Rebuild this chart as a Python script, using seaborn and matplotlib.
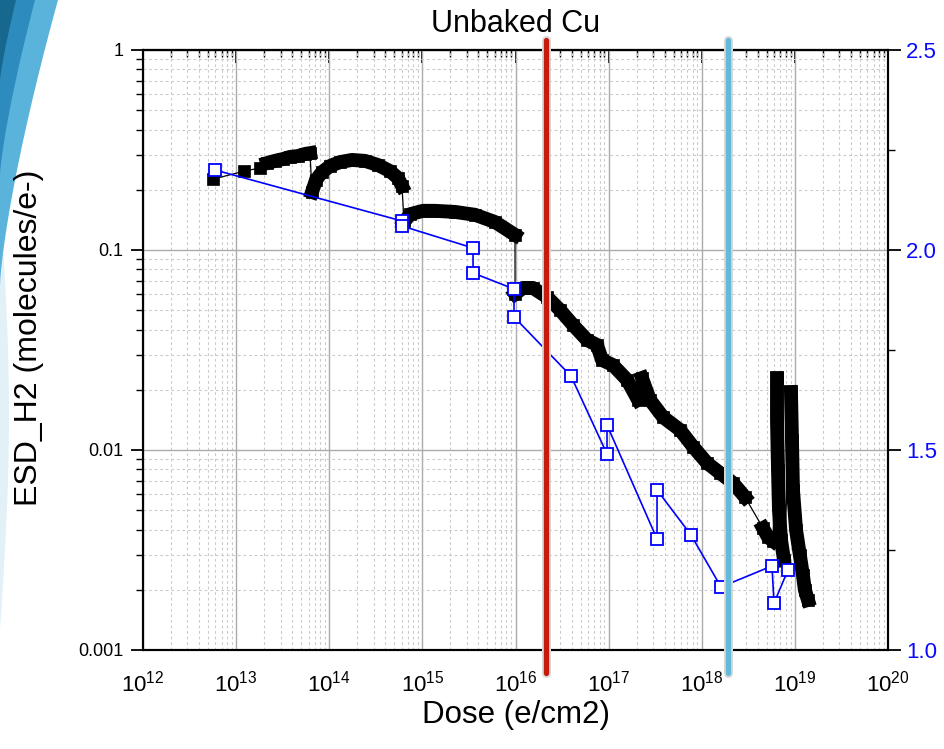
import numpy as np
import seaborn as sns
import matplotlib.pyplot as plt
from matplotlib.patches import Polygon
from matplotlib.ticker import LogLocator, FuncFormatter, MultipleLocator, NullFormatter

# ============================================================
# DATA
# ============================================================
# black series: ESD H2 yield, measured in several runs
early_dose = [5.65e12, 1.22e13, 1.80e13, 2.15e13, 2.61e13, 3.19e13, 3.79e13, 4.62e13, 5.49e13, 6.21e13]
early_esd = [0.226, 0.248, 0.257, 0.272, 0.279, 0.285, 0.292, 0.295, 0.302, 0.305]

arc_dose = [6.53e13, 7.21e13, 8.36e13, 1.02e14, 1.30e14, 1.75e14, 2.42e14, 3.34e14, 4.49e14, 5.47e14, 6.04e14]
arc_esd = [0.195, 0.224, 0.245, 0.263, 0.275, 0.282, 0.279, 0.266, 0.248, 0.229, 0.209]

plateau_dose = [6.35e14, 7.37e14, 1.02e15, 1.37e15, 2.24e15, 3.67e15, 6.03e15, 9.88e15]
plateau_esd = [0.138, 0.151, 0.157, 0.157, 0.155, 0.150, 0.138, 0.119]

decay1_dose = [9.89e15, 1.20e16, 1.54e16, 2.18e16, 3.01e16, 4.14e16, 5.86e16, 7.50e16, 8.49e16, 1.11e17, 1.58e17, 2.07e17]
decay1_esd = [0.0603, 0.0646, 0.0646, 0.0582, 0.0501, 0.0422, 0.0355, 0.0335, 0.0282, 0.0266, 0.0224, 0.0178]

decay2_dose = [2.28e17, 2.78e17, 3.84e17, 5.84e17, 8.05e17, 1.14e18, 1.57e18, 2.17e18, 2.91e18]
decay2_esd = [0.0229, 0.0178, 0.0146, 0.0126, 0.0104, 0.00861, 0.00767, 0.00684, 0.00582]

tail_dose = [4.55e18, 5.14e18, 5.82e18]
tail_esd = [0.00407, 0.00367, 0.00351]

spike1_dose = [6.43e18, 6.43e18, 6.59e18, 6.75e18, 7.10e18, 7.64e18]
spike1_esd = [0.0229, 0.0141, 0.00794, 0.00501, 0.00355, 0.00282]

spike2_dose = [9.08e18, 9.31e18, 9.54e18, 1.03e19, 1.13e19, 1.22e19, 1.28e19, 1.38e19]
spike2_esd = [0.0195, 0.0112, 0.00631, 0.00398, 0.00299, 0.00237, 0.00200, 0.00178]

# blue series (right axis)
blue_dose = [5.93e12, 6.04e14, 6.04e14, 3.50e15, 3.50e15, 9.64e15, 9.64e15, 3.94e16,
             9.61e16, 9.61e16, 3.31e17, 3.31e17, 7.67e17, 1.61e18, 5.68e18, 5.97e18, 8.44e18]
blue_val = [2.20, 2.0725, 2.06, 2.005, 1.9425, 1.9025, 1.8325, 1.685,
            1.49, 1.5625, 1.2775, 1.40, 1.2875, 1.1575, 1.21, 1.1175, 1.20]

# marker doses (vertical lines)
red_line_dose = 2.13e16
cyan_line_dose = 1.91e18

left_ticks = [0.001, 0.01, 0.1, 1]
right_ticks = [1.0, 1.5, 2.0, 2.5]

# ============================================================
# STYLE
# ============================================================
sns.set_style("white")
plt.rcParams['font.family'] = ['Liberation Sans', 'DejaVu Sans']
plt.rcParams.update({
    'text.color': 'black', 'axes.labelcolor': 'black',
    'axes.edgecolor': 'black',
    'axes.linewidth': 1.5,
    'xtick.major.width': 1.3, 'ytick.major.width': 1.3,
    'xtick.minor.width': 1.0, 'ytick.minor.width': 1.0,
    'xtick.major.size': 9, 'ytick.major.size': 9,
    'xtick.minor.size': 5, 'ytick.minor.size': 5,
    'xtick.direction': 'out', 'ytick.direction': 'out',
    'xtick.color': 'black', 'ytick.color': 'black',
})

fig = plt.figure(figsize=(9.45, 7.49), dpi=100)
ax = fig.add_axes([143 / 945, 1 - 650 / 749, 745 / 945, 600 / 749])


# slide background swoosh (top-left corner), smooth curved bands
def swoosh(width, height, power, color, y0=0):
    ys = np.linspace(y0, height, 40)
    xs = width * (1 - (ys - y0) / (height - y0)) ** power
    pts = [(0, y0)] + list(zip(xs, ys))
    xy = [(x / 945, 1 - y / 749) for x, y in pts]
    fig.add_artist(Polygon(xy, closed=True, transform=fig.transFigure,
                           facecolor=color, edgecolor='none', zorder=0))


ys_f = np.linspace(200, 630, 40)
xs_f = 9 * np.sin(np.pi * (ys_f - 200) / 430)
fig.add_artist(Polygon([(x / 945, 1 - y / 749) for x, y in zip(xs_f, ys_f)],
                       closed=True, transform=fig.transFigure,
                       facecolor='#e2f0f7', edgecolor='none', zorder=0))
swoosh(58, 285, 1.35, '#5ab3db')
swoosh(35, 175, 1.3, '#2e8bbd')
swoosh(16, 80, 1.2, '#17688f')

ax.set_xscale('log')
ax.set_yscale('log')
ax.set_xlim(1e12, 1e20)
ax.set_ylim(1e-3, 1)

# grid
ax.grid(which='major', color='#ababab', lw=1.0, ls='-')
ax.grid(which='minor', color='#cbcbcb', lw=0.8, ls=(0, (2.5, 2.5)))
ax.set_axisbelow(True)

# ============================================================
# BLACK SERIES
# ============================================================
all_dose = (early_dose + arc_dose + plateau_dose + decay1_dose + decay2_dose
            + tail_dose + spike1_dose + spike2_dose)
all_esd = (early_esd + arc_esd + plateau_esd + decay1_esd + decay2_esd
           + tail_esd + spike1_esd + spike2_esd)

# thin connecting line + square markers
sns.lineplot(x=all_dose, y=all_esd, sort=False, estimator=None, ax=ax,
             color='black', lw=0.9, marker='s', markersize=8.5,
             markerfacecolor='black', markeredgecolor='black', markeredgewidth=0.5)

# dense runs drawn as thick bands of squares
segments = [
    (early_dose[3:], early_esd[3:]),
    (arc_dose, arc_esd),
    (plateau_dose, plateau_esd),
    (decay1_dose, decay1_esd),
    (decay2_dose, decay2_esd),
    (tail_dose, tail_esd),
    (spike1_dose, spike1_esd),
    (spike2_dose, spike2_esd),
]
for sx, sy in segments:
    sns.lineplot(x=sx, y=sy, sort=False, estimator=None, ax=ax, color='black',
                 lw=10.0, solid_capstyle='projecting', solid_joinstyle='round')

ax.set_xlabel('Dose (e/cm2)', fontsize=22.5)
ax.set_ylabel('ESD_H2 (molecules/e-)', fontsize=23)
ax.xaxis.set_label_coords(0.5, -0.083)
ax.yaxis.set_label_coords(-0.133, 0.52)

ax.xaxis.set_major_locator(LogLocator(base=10, numticks=20))
ax.xaxis.set_minor_locator(LogLocator(base=10, subs=np.arange(2, 10), numticks=200))
ax.xaxis.set_minor_formatter(NullFormatter())
ax.set_yticks(left_ticks)
ax.yaxis.set_major_formatter(FuncFormatter(lambda v, _: f'{v:g}'))
ax.yaxis.set_minor_locator(LogLocator(base=10, subs=np.arange(2, 10), numticks=200))
ax.yaxis.set_minor_formatter(NullFormatter())
ax.tick_params(axis='x', which='major', labelsize=16, pad=6)
ax.tick_params(axis='y', which='major', labelsize=13, pad=5)

# top axis with inward ticks (mirror)
top = ax.secondary_xaxis('top')
top.xaxis.set_major_locator(LogLocator(base=10, numticks=20))
top.xaxis.set_minor_locator(LogLocator(base=10, subs=np.arange(2, 10), numticks=200))
top.tick_params(which='both', direction='in', labeltop=False)
top.xaxis.set_major_formatter(NullFormatter())
top.xaxis.set_minor_formatter(NullFormatter())

# ============================================================
# BLUE SERIES (right axis)
# ============================================================
ax2 = ax.twinx()
ax2.set_ylim(1.0, 2.5)
sns.lineplot(x=blue_dose, y=blue_val, sort=False, estimator=None, ax=ax2,
             color='#0000ff', lw=1.2, marker='s', markersize=8.5,
             markerfacecolor='white', markeredgecolor='#0000ff', markeredgewidth=1.3)
ax2.set_yticks(right_ticks)
ax2.yaxis.set_minor_locator(MultipleLocator(0.25))
ax2.yaxis.set_major_formatter(FuncFormatter(lambda v, _: f'{v:.1f}'))
ax2.tick_params(axis='y', which='major', labelsize=16, labelcolor='#0a0aff', pad=4)
ax2.set_ylabel('')
ax2.grid(False)

# vertical marker lines, drawn over everything
for xv, col in [(red_line_dose, '#c71a0e'), (cyan_line_dose, '#63b9da')]:
    ax2.axvline(xv, ymin=-0.038, ymax=1.017, clip_on=False, color='#d8d8d8', lw=6.5, zorder=9)
    ax2.axvline(xv, ymin=-0.038, ymax=1.017, clip_on=False, color=col, lw=3.8, zorder=10)

ax.set_title('Unbaked Cu', fontsize=22, pad=13)

fig.savefig('out.png', dpi=100)
